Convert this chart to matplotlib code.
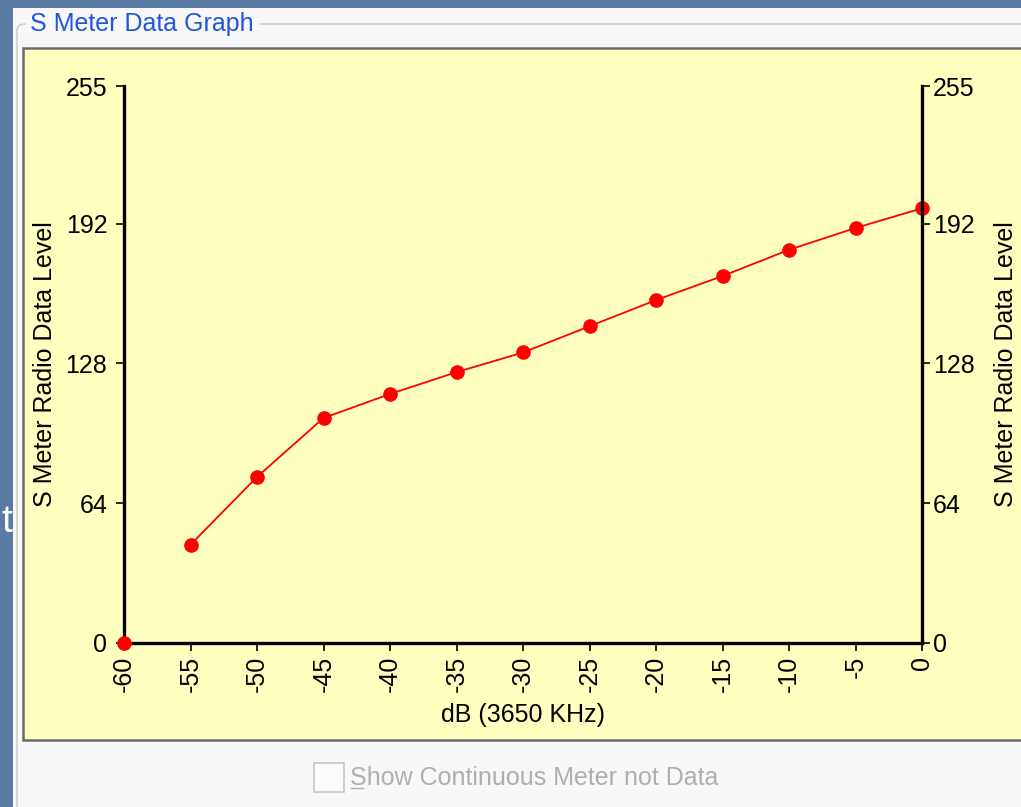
import matplotlib.pyplot as plt
from matplotlib.patches import Rectangle, FancyBboxPatch
from matplotlib.lines import Line2D

# S meter calibration readings
db_levels = [-60, -55, -50, -45, -40, -35, -30, -25, -20, -15, -10, -5, 0]
meter_data = [0, 45, 76, 103, 114, 124, 133, 145, 157, 168, 180, 190, 199]
y_ticks = [0, 64, 128, 192, 255]
x_ticks = [-60, -55, -50, -45, -40, -35, -30, -25, -20, -15, -10, -5, 0]

W, H = 1021, 807
plt.rcParams['font.family'] = ['Liberation Sans', 'DejaVu Sans']
plt.rcParams['axes.unicode_minus'] = False
FS = 18


def fx(px):
    return px / W


def fy(py):
    return 1 - py / H


fig = plt.figure(figsize=(W / 100, H / 100), dpi=100)
fig.patch.set_facecolor('#5a7ba3')

# window panel
fig.add_artist(Rectangle((fx(13), 0), 1, fy(8), transform=fig.transFigure,
                         facecolor='#f8f8fb', edgecolor='none', zorder=-10))
# group box frame
fig.add_artist(FancyBboxPatch((fx(17), fy(1000)), fx(1100), fy(24) - fy(1000),
                              boxstyle='round,pad=0,rounding_size=0.008',
                              transform=fig.transFigure, facecolor='none',
                              edgecolor='#d0d0c4', linewidth=1.2, zorder=-9))
fig.add_artist(Rectangle((fx(26), fy(38)), fx(234), fy(12) - fy(38),
                         transform=fig.transFigure, facecolor='#f8f8fb',
                         edgecolor='none', zorder=-8))
fig.text(fx(30), fy(24), 'S Meter Data Graph', color='#2156d6', fontsize=FS,
         va='center', ha='left')

# yellow chart area
fig.add_artist(Rectangle((fx(23), fy(740)), 1, fy(48) - fy(740),
                         transform=fig.transFigure, facecolor='#ffffc0',
                         edgecolor='#6a6a6a', linewidth=1.8, zorder=-7))

# checkbox
fig.add_artist(Rectangle((fx(314), fy(792)), fx(30), fy(763) - fy(792),
                         transform=fig.transFigure, facecolor='#fbfbfb',
                         edgecolor='#c8c8c0', linewidth=1.2, zorder=-6))
fig.text(fx(350), fy(778), 'Show Continuous Meter not Data', color='#b0b0a8',
         fontsize=FS, va='center', ha='left')
fig.add_artist(Line2D([fx(351), fx(363)], [fy(788), fy(788)],
                      transform=fig.transFigure, color='#b0b0a8', linewidth=1))

# slide text fragment at left edge
fig.text(fx(12), fy(522), 't', color='white', fontsize=28, va='center', ha='right')

ax = fig.add_axes([fx(124), fy(643), fx(922) - fx(124), fy(86) - fy(643)])
ax.set_facecolor('none')
# the first reading is drawn as a lone marker, the line starts at the second one
ax.plot(db_levels[1:], meter_data[1:], color='red', linewidth=1.3, zorder=4)
ax.plot(db_levels, meter_data, color='red', linestyle='none', marker='o',
        markersize=9.5, clip_on=False, zorder=5)
ax.set_xlim(-60, 0)
ax.set_ylim(0, 255)
ax.set_xticks(x_ticks)
ax.set_yticks(y_ticks)
ax.tick_params(axis='x', rotation=90, pad=3)
ax.tick_params(axis='y', pad=6)
ax.tick_params(direction='out', length=6, width=1.2, labelsize=FS)
ax.spines['top'].set_visible(False)
ax.spines['right'].set_visible(False)
for s in ['left', 'bottom']:
    ax.spines[s].set_linewidth(2.4)
ax.set_xlabel('dB (3650 KHz)', fontsize=FS, labelpad=8)
ax.set_ylabel('S Meter Radio Data Level', fontsize=FS, labelpad=6)

ax2 = ax.twinx()
ax2.set_ylim(0, 255)
ax2.set_yticks(y_ticks)
ax2.tick_params(direction='out', length=6, width=1.2, labelsize=FS, pad=2)
for s in ['top', 'left', 'bottom']:
    ax2.spines[s].set_visible(False)
ax2.spines['right'].set_linewidth(2.4)
ax2.set_ylabel('S Meter Radio Data Level', fontsize=FS, rotation=90, labelpad=14)

fig.savefig('out.png', dpi=100)
